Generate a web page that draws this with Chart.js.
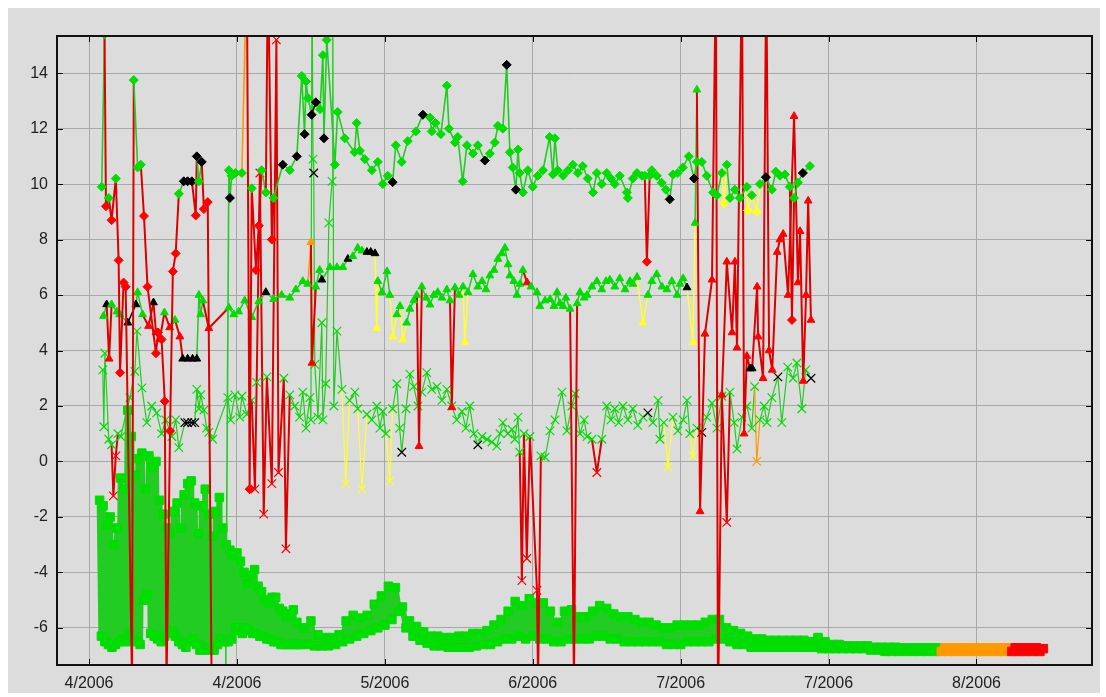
<!DOCTYPE html>
<html>
<head>
<meta charset="utf-8">
<script src="https://cdn.jsdelivr.net/npm/chart.js@4.4.1/dist/chart.umd.min.js"></script>
<style>
  html, body { margin: 0; padding: 0; background: #fff; }
  #wrap { position: absolute; left: 8px; top: 8px; width: 1092px; height: 685px; background: #dcdcdc; }
</style>
</head>
<body>
<div id="wrap"><canvas id="chart" width="1092" height="685"></canvas></div>
<script>
// x = days since 1 Apr 2006
const tickDays = [7, 28, 49, 70, 91, 112, 133];
const tickLabels = ['4/2006', '4/2006', '5/2006', '6/2006', '7/2006', '7/2006', '8/2006'];
const yTicks = [-6, -4, -2, 0, 2, 4, 6, 8, 10, 12, 14];

// status: n = normal, w = warning, a = alarm, c = critical, k = unknown
// [day, value, status]
const diamondReadings = [
  [8.8, 9.9, 'n'], [9.2, 15.4, 'n'], [9.4, 9.2, 'c'], [9.8, 9.5, 'n'], [10.2, 8.7, 'c'],
  [10.8, 10.2, 'n'], [11.2, 7.25, 'c'], [11.4, 3.2, 'c'], [11.9, 6.45, 'c'], [12.2, 6.3, 'c'],
  [13.1, -8, 'c'], [13.35, 13.75, 'n'], [13.9, 10.6, 'n'], [14.35, 10.7, 'n'], [14.8, 8.85, 'c'],
  [15.3, 6.3, 'c'], [16.5, 3.9, 'c'], [16.8, 4.65, 'c'], [17.3, 4.4, 'c'], [17.75, 2.17, 'c'],
  [18.0, -8, 'c'], [18.5, 1.1, 'c'], [18.9, 6.85, 'c'], [19.3, 7.5, 'c'], [19.75, 9.65, 'n'],
  [20.45, 10.1, 'k'], [21.0, 10.1, 'k'], [21.6, 10.1, 'k'], [22.15, 8.87, 'c'], [22.3, 11.0, 'k'],
  [22.6, 10.1, 'n'], [23.0, 10.8, 'k'], [23.3, 9.1, 'c'], [23.85, 9.35, 'c'], [24.4, -8, 'c'],
  [26.4, -8, 'n'], [26.85, 10.5, 'n'], [27.0, 9.5, 'k'], [27.25, 10.3, 'n'], [27.8, 10.4, 'n'],
  [28.7, 10.4, 'n'], [29.4, 18, 'a'], [29.8, -1.0, 'c'], [30.1, 9.85, 'n'], [30.7, 6.9, 'c'],
  [31.1, 8.5, 'c'], [31.5, 10.5, 'n'], [32.1, 9.7, 'n'], [32.4, 18, 'c'], [32.95, 8.0, 'c'],
  [33.2, 9.5, 'n'], [34.5, 10.7, 'k'], [35.5, 10.5, 'n'], [36.5, 11.0, 'k'], [37.2, 13.9, 'n'],
  [37.6, 11.8, 'k'], [37.8, 13.7, 'n'], [38.1, 13.1, 'n'], [38.6, 12.5, 'k'], [39.2, 12.95, 'k'],
  [39.8, 12.7, 'n'], [40.2, 14.65, 'n'], [40.35, 11.65, 'k'], [40.75, 15.2, 'n'], [41.9, 10.7, 'n'],
  [42.3, 12.6, 'n'], [43.3, 11.65, 'n'], [44.7, 11.15, 'n'], [45.0, 12.2, 'n'], [45.45, 11.2, 'n'],
  [46.15, 10.9, 'n'], [47.15, 10.5, 'n'], [48.0, 10.8, 'n'], [48.7, 10.0, 'n'], [49.4, 10.3, 'n'],
  [50.1, 10.07, 'k'], [50.55, 11.4, 'n'], [51.4, 10.8, 'n'], [52.25, 11.55, 'n'], [53.4, 11.9, 'n'],
  [54.4, 12.5, 'k'], [55.4, 12.4, 'n'], [55.65, 11.9, 'n'], [56.2, 12.2, 'n'], [56.95, 11.8, 'n'],
  [57.8, 13.55, 'n'], [58.1, 12.0, 'n'], [58.95, 11.5, 'n'], [59.35, 11.7, 'n'], [60.05, 10.1, 'n'],
  [60.65, 11.4, 'n'], [61.5, 11.1, 'n'], [62.2, 11.4, 'n'], [63.2, 10.85, 'k'], [63.9, 11.1, 'n'],
  [64.6, 11.5, 'n'], [65.05, 12.1, 'n'], [65.75, 12.0, 'n'], [66.3, 14.3, 'k'], [66.75, 11.15, 'n'],
  [67.15, 10.6, 'n'], [67.6, 9.8, 'k'], [67.9, 11.25, 'n'], [68.15, 10.4, 'n'], [68.6, 9.7, 'n'],
  [69.3, 10.5, 'n'], [70.0, 9.9, 'n'], [70.7, 10.3, 'n'], [71.45, 10.5, 'n'], [72.4, 11.7, 'n'],
  [72.85, 10.35, 'n'], [73.15, 11.65, 'n'], [73.55, 10.5, 'n'], [74.3, 10.3, 'n'], [75.0, 10.5, 'n'],
  [75.7, 10.7, 'n'], [76.4, 10.4, 'n'], [77.1, 10.65, 'n'], [77.8, 10.2, 'n'], [78.55, 9.7, 'n'],
  [79.1, 10.4, 'n'], [79.8, 10.0, 'n'], [80.5, 10.4, 'n'], [81.1, 10.2, 'n'], [81.65, 10.0, 'n'],
  [82.35, 10.3, 'n'], [83.35, 9.7, 'n'], [83.5, 9.5, 'n'], [84.2, 10.2, 'n'], [84.8, 10.4, 'n'],
  [85.5, 10.3, 'n'], [85.9, 10.3, 'n'], [86.2, 7.2, 'c'], [86.6, 10.3, 'n'], [86.9, 10.5, 'n'],
  [87.6, 10.3, 'n'], [88.3, 10.05, 'n'], [88.9, 9.8, 'n'], [89.45, 9.45, 'k'], [89.9, 10.35, 'n'],
  [90.6, 10.4, 'n'], [91.3, 10.6, 'n'], [92.15, 11.0, 'n'], [92.9, 10.2, 'k'], [93.3, 10.8, 'n'],
  [94.0, 10.8, 'n'], [94.7, 10.3, 'n'], [95.6, 9.7, 'n'], [96.15, 9.6, 'n'], [96.85, 10.4, 'n'],
  [97.15, 9.3, 'w'], [97.55, 10.7, 'n'], [98.0, 9.5, 'n'], [98.7, 9.8, 'n'], [99.4, 9.5, 'n'],
  [100.4, 9.9, 'n'], [100.55, 9.05, 'w'], [101.1, 9.6, 'n'], [101.8, 9.0, 'w'], [102.25, 10.0, 'n'],
  [103.1, 10.25, 'k'], [103.95, 9.8, 'n'], [104.5, 10.45, 'n'], [105.1, 10.3, 'n'], [105.8, 10.35, 'n'],
  [106.5, 9.9, 'n'], [106.8, 5.1, 'c'], [107.1, 9.5, 'n'], [107.65, 10.05, 'n'], [108.35, 10.4, 'k'],
  [109.35, 10.65, 'n']
];

const triangleReadings = [
  [9.05, 5.24, 'n'], [9.5, 5.66, 'k'], [9.85, 3.7, 'c'], [10.2, 5.66, 'n'], [10.95, 5.4, 'n'],
  [11.35, 5.3, 'n'], [12.5, 5.0, 'k'], [13.65, 5.66, 'k'], [13.9, 6.1, 'n'], [14.6, 5.3, 'n'],
  [15.45, 4.88, 'c'], [16.15, 5.73, 'k'], [16.5, 4.65, 'c'], [17.05, 4.4, 'c'], [17.7, 5.37, 'n'],
  [18.45, 4.83, 'c'], [19.2, 5.1, 'n'], [19.9, 4.5, 'c'], [20.3, 3.7, 'k'], [21.0, 3.7, 'k'],
  [21.7, 3.7, 'k'], [22.3, 3.7, 'k'], [22.6, 6.0, 'n'], [22.85, 5.3, 'n'], [23.15, 5.8, 'n'],
  [24.0, 4.8, 'c'], [26.85, 5.55, 'n'], [27.55, 5.3, 'n'], [28.25, 5.4, 'n'], [29.1, 5.8, 'n'],
  [30.1, 5.2, 'n'], [31.1, 5.77, 'n'], [32.1, 6.1, 'k'], [33.2, 5.85, 'n'], [34.35, 6.0, 'n'],
  [35.5, 5.9, 'n'], [36.35, 6.2, 'n'], [37.35, 6.5, 'n'], [38.05, 6.4, 'n'], [38.5, 7.9, 'a'],
  [38.65, 3.55, 'c'], [39.2, 6.3, 'n'], [39.75, 6.9, 'n'], [40.05, 6.55, 'k'], [41.2, 7.0, 'n'],
  [42.2, 7.0, 'n'], [43.05, 7.0, 'n'], [43.75, 7.3, 'k'], [44.45, 7.4, 'n'], [45.15, 7.7, 'n'],
  [45.75, 7.6, 'n'], [46.45, 7.55, 'k'], [47.0, 7.55, 'k'], [47.6, 7.5, 'k'], [47.85, 4.8, 'w'],
  [48.0, 6.5, 'n'], [48.6, 6.1, 'n'], [49.3, 6.85, 'n'], [49.7, 6.0, 'n'], [50.15, 4.5, 'w'],
  [50.7, 5.3, 'n'], [51.15, 5.6, 'n'], [51.55, 4.4, 'w'], [52.1, 5.0, 'n'], [52.55, 5.5, 'n'],
  [53.1, 5.8, 'n'], [53.55, 6.0, 'n'], [53.85, 0.55, 'c'], [54.25, 6.3, 'n'], [54.85, 5.9, 'n'],
  [55.4, 5.65, 'n'], [55.95, 6.0, 'n'], [56.5, 6.1, 'n'], [57.1, 5.9, 'n'], [57.8, 6.2, 'n'],
  [58.25, 5.8, 'n'], [58.5, 1.95, 'c'], [58.95, 6.27, 'n'], [59.5, 6.0, 'n'], [60.1, 6.3, 'n'],
  [60.35, 4.3, 'w'], [60.8, 6.1, 'n'], [61.5, 6.75, 'n'], [62.2, 6.3, 'n'], [62.8, 6.5, 'n'],
  [63.35, 6.2, 'n'], [63.9, 6.7, 'n'], [64.5, 6.9, 'n'], [65.05, 7.3, 'n'], [65.6, 7.5, 'n'],
  [66.05, 7.7, 'n'], [66.5, 7.1, 'n'], [66.75, 6.7, 'n'], [67.3, 6.5, 'n'], [67.75, 6.0, 'n'],
  [68.2, 6.4, 'n'], [68.6, 6.9, 'n'], [69.2, 6.45, 'c'], [69.75, 6.3, 'n'], [70.6, 6.1, 'n'],
  [71.0, 5.6, 'n'], [71.75, 5.8, 'n'], [72.45, 5.85, 'n'], [73.0, 5.6, 'n'], [73.45, 6.1, 'n'],
  [73.85, 5.7, 'n'], [74.3, 5.6, 'n'], [74.7, 5.9, 'n'], [75.3, 5.5, 'n'], [75.85, -8, 'c'],
  [76.3, 5.7, 'n'], [76.7, 6.1, 'n'], [77.3, 5.9, 'n'], [77.7, 6.0, 'n'], [78.4, 6.3, 'n'],
  [79.1, 6.5, 'n'], [79.8, 6.2, 'n'], [80.4, 6.5, 'n'], [80.95, 6.55, 'n'], [81.65, 6.3, 'n'],
  [82.35, 6.6, 'n'], [83.1, 6.2, 'n'], [83.8, 6.5, 'n'], [84.2, 6.4, 'n'], [84.8, 6.65, 'n'],
  [85.65, 5.0, 'w'], [86.35, 6.0, 'n'], [86.9, 6.5, 'n'], [87.6, 6.75, 'n'], [88.35, 6.3, 'n'],
  [89.05, 6.2, 'n'], [89.75, 6.5, 'n'], [90.5, 6.0, 'n'], [90.9, 6.4, 'n'], [91.35, 6.6, 'n'],
  [91.9, 6.27, 'k'], [92.75, 4.3, 'w'], [93.05, 8.6, 'n'], [93.3, 13.4, 'n'], [93.75, -1.8, 'c'],
  [94.45, 4.6, 'c'], [95.45, 6.55, 'c'], [96.0, 18, 'c'], [96.3, -9, 'c'], [96.85, 2.4, 'c'],
  [97.55, 7.2, 'c'], [98.3, 4.65, 'c'], [98.7, 7.2, 'c'], [99.0, 4.1, 'c'], [99.7, 18, 'c'],
  [100.0, 1.0, 'c'], [100.4, 3.8, 'c'], [100.85, 3.35, 'k'], [101.15, 3.35, 'k'], [101.85, 6.3, 'c'],
  [102.0, 4.5, 'c'], [102.7, 3.0, 'c'], [103.15, 18, 'c'], [103.55, 4.0, 'c'], [104.0, 3.3, 'c'],
  [104.7, 7.55, 'c'], [105.1, 8.0, 'c'], [105.55, 8.2, 'c'], [106.25, 6.0, 'c'], [107.1, 12.45, 'c'],
  [107.65, 6.45, 'c'], [107.95, 8.3, 'c'], [108.4, 2.9, 'c'], [108.8, 6.0, 'c'], [109.1, 9.4, 'c'],
  [109.5, 5.1, 'c']
];

const crossReadings = [
  [8.95, 3.3, 'n'], [9.1, 1.25, 'n'], [9.25, 3.9, 'n'], [9.8, 0.8, 'n'], [10.2, 0.6, 'n'],
  [10.45, -1.24, 'c'], [10.8, 0.2, 'c'], [11.1, 1.0, 'n'], [11.5, 0.9, 'n'], [12.8, 2.3, 'n'],
  [13.5, 3.25, 'n'], [13.8, 4.7, 'n'], [14.5, 2.65, 'n'], [15.2, 1.4, 'n'], [15.9, 2.0, 'n'],
  [16.6, 1.75, 'n'], [17.3, 1.0, 'n'], [17.9, 1.5, 'n'], [18.75, 0.9, 'n'], [19.3, 1.5, 'n'],
  [19.75, 0.5, 'n'], [20.6, 1.4, 'k'], [21.0, 1.4, 'k'], [21.6, 1.4, 'k'], [22.0, 1.4, 'k'],
  [22.3, 2.6, 'n'], [22.6, 1.9, 'n'], [22.85, 2.4, 'n'], [23.3, 1.85, 'n'], [23.7, 1.2, 'n'],
  [24.0, 1.05, 'n'], [24.55, 0.8, 'n'], [26.7, 2.3, 'n'], [27.1, 1.5, 'n'], [27.7, 2.4, 'n'],
  [28.4, 1.6, 'n'], [28.7, 2.35, 'n'], [29.4, 1.7, 'n'], [30.1, 2.2, 'n'], [30.55, -1.0, 'c'],
  [30.8, 2.85, 'n'], [31.25, 10.4, 'c'], [31.8, -1.9, 'c'], [32.25, 3.05, 'n'], [32.95, -0.8, 'c'],
  [33.6, 15.2, 'c'], [33.9, -0.4, 'c'], [34.65, 3.0, 'n'], [34.95, -3.15, 'c'], [35.5, 2.4, 'n'],
  [36.2, 2.0, 'n'], [36.9, 1.6, 'n'], [37.35, 2.5, 'n'], [37.8, 1.2, 'n'], [38.35, 2.3, 'n'],
  [38.5, 1.5, 'n'], [38.65, 18, 'n'], [38.8, 10.9, 'n'], [38.9, 10.4, 'k'], [39.05, 3.5, 'n'],
  [39.5, 1.6, 'n'], [40.05, 5.0, 'n'], [40.2, 1.5, 'n'], [40.6, 2.8, 'n'], [41.05, 8.6, 'n'],
  [41.5, 10.1, 'n'], [41.6, 18, 'n'], [41.75, 2.0, 'n'], [42.2, 4.7, 'n'], [42.9, 2.6, 'n'],
  [43.45, -0.8, 'w'], [44.0, 2.2, 'n'], [44.75, 2.5, 'n'], [45.15, 1.9, 'n'], [45.75, -1.0, 'w'],
  [46.45, 1.7, 'n'], [47.15, 1.5, 'n'], [47.85, 2.0, 'n'], [48.3, 1.2, 'n'], [48.7, 1.8, 'n'],
  [49.15, 1.0, 'n'], [49.7, -0.7, 'w'], [50.1, 1.9, 'n'], [50.7, 2.8, 'n'], [51.1, 1.2, 'n'],
  [51.4, 0.33, 'k'], [52.0, 1.9, 'n'], [52.55, 3.15, 'n'], [53.1, 2.7, 'n'], [53.7, 2.0, 'n'],
  [54.25, 2.5, 'n'], [54.95, 3.2, 'n'], [55.65, 2.6, 'n'], [56.4, 2.7, 'n'], [57.1, 2.2, 'n'],
  [57.8, 2.6, 'n'], [58.5, 2.0, 'n'], [59.2, 1.5, 'n'], [59.95, 1.8, 'n'], [60.5, 1.2, 'n'],
  [61.05, 2.0, 'n'], [61.65, 1.0, 'n'], [62.2, 0.6, 'k'], [62.8, 0.9, 'n'], [63.5, 0.8, 'n'],
  [64.2, 0.7, 'n'], [64.9, 0.55, 'n'], [65.35, 1.0, 'n'], [65.75, 1.4, 'n'], [66.45, 1.0, 'n'],
  [67.05, 1.15, 'n'], [67.45, 0.8, 'n'], [67.9, 1.6, 'n'], [68.15, 0.33, 'n'], [68.45, -4.3, 'c'],
  [68.75, 1.0, 'n'], [69.15, -3.5, 'c'], [69.6, 0.9, 'n'], [70.6, -4.65, 'c'], [70.75, -8, 'c'],
  [71.15, 0.2, 'n'], [71.75, 0.15, 'n'], [72.45, 1.1, 'n'], [73.15, 1.5, 'n'], [74.15, 2.5, 'n'],
  [74.85, 1.1, 'n'], [75.55, 2.0, 'n'], [76.0, 2.45, 'n'], [76.7, 1.0, 'n'], [77.3, 1.5, 'n'],
  [77.7, 0.9, 'n'], [78.4, 0.8, 'n'], [79.1, -0.4, 'c'], [79.8, 0.8, 'n'], [80.5, 2.0, 'n'],
  [81.1, 1.5, 'n'], [81.65, 1.9, 'n'], [82.2, 1.4, 'n'], [82.8, 2.0, 'n'], [83.5, 1.5, 'n'],
  [84.2, 1.9, 'n'], [84.9, 1.3, 'n'], [85.65, 1.6, 'n'], [86.35, 1.75, 'k'], [87.05, 1.4, 'n'],
  [87.8, 2.2, 'n'], [88.05, 0.8, 'n'], [88.6, 1.4, 'n'], [89.2, -0.2, 'w'], [89.9, 1.6, 'n'],
  [90.6, 1.1, 'n'], [91.35, 1.5, 'n'], [91.9, 2.2, 'n'], [92.3, 1.0, 'n'], [92.75, 0.2, 'w'],
  [93.3, 1.2, 'n'], [94.0, 1.05, 'k'], [94.7, 1.6, 'n'], [95.45, 2.1, 'n'], [96.15, 1.2, 'n'],
  [96.85, 2.35, 'n'], [97.55, -2.2, 'c'], [98.0, 2.5, 'n'], [98.6, 1.4, 'n'], [99.0, 0.45, 'n'],
  [99.7, 1.6, 'n'], [100.4, 2.0, 'n'], [101.1, 1.2, 'n'], [101.5, 2.7, 'n'], [101.8, 0.0, 'a'],
  [102.25, 1.5, 'n'], [102.85, 2.0, 'n'], [103.25, 1.4, 'n'], [103.95, 2.3, 'n'], [104.8, 3.05, 'k'],
  [105.35, 1.4, 'n'], [106.2, 3.4, 'n'], [106.95, 3.0, 'n'], [107.5, 3.55, 'n'], [108.2, 1.9, 'n'],
  [108.75, 3.3, 'n'], [109.5, 3.0, 'k']
];

// square series, first weeks: one reading every quarter day from day 8.5
const squareDenseStart = 8.5;
const squareDenseStep = 0.25;
const squareDenseValues = [
  -1.4, -6.3, -1.6, -6.5, -2.3, -6.6, -2.0, -6.7, -3.0, -6.6,
  -2.4, -6.5, -0.6, -6.4, -1.0, -6.5, 1.85, -6.2, 0.9, -6.4,
  -0.5, -6.5, 0.1, -6.6, 0.3, -5.0, -1.0, -4.8, 0.2, -6.2,
  -0.2, -6.3, 0.0, -6.4, -1.4, -6.5, -1.9, -6.3, -2.4, -6.2,
  -2.6, -6.1, -1.8, -6.3, -1.5, -6.5, -2.4, -6.6, -1.2, -6.7,
  -0.8, -6.5, -0.7, -6.4, -1.5, -6.6, -2.6, -6.8, -1.6, -6.8,
  -1.0, -6.7, -1.9, -6.8, -2.7, -6.8, -1.8, -6.6, -1.3, -6.4,
  -2.4, -6.5, -3.0, -6.5, -3.2, -6.4, -3.4, -6.0, -3.3, -6.1,
  -3.6, -6.2, -4.0, -6.0, -4.4, -6.1, -4.1, -6.2, -3.9, -6.2,
  -4.5, -6.3, -4.7, -6.3, -5.0, -6.4, -5.1, -6.4, -4.9, -6.5,
  -4.9, -6.5, -5.3, -6.6, -5.4, -6.6, -5.6, -6.6, -5.5, -6.6,
  -5.35, -6.6, -5.8, -6.6
];
// square series afterwards: one reading every half day from day 37
const squareStart = 37;
const squareStep = 0.5;
const squareValues = [
  -6.6, -6.0, -6.6,
  -5.75, -6.65, -6.25, -6.65, -6.35, -6.65, -6.35, -6.6, -6.25, -6.5,
  -5.75, -6.4, -5.55, -6.3, -5.65, -6.2, -5.55, -6.1, -5.15, -6.0,
  -4.85, -5.9, -4.5, -5.7, -4.55, -5.4, -5.25, -6.0, -5.75, -6.3,
  -5.95, -6.45, -6.15, -6.55, -6.3, -6.65, -6.3, -6.65, -6.35, -6.7,
  -6.35, -6.7, -6.3, -6.7, -6.3, -6.7, -6.2, -6.65, -6.2, -6.6,
  -6.1, -6.6, -5.9, -6.5, -5.7, -6.4, -5.4, -6.4, -5.05, -6.3,
  -5.2, -6.4, -4.95, -6.3, -5.1, -6.4, -5.1, -6.4, -5.4, -6.5,
  -5.8, -6.5, -5.4, -6.4, -5.35, -6.4, -5.6, -6.4, -5.6, -6.4,
  -5.4, -6.3, -5.2, -6.3, -5.3, -6.4, -5.5, -6.4, -5.6, -6.5,
  -5.6, -6.5, -5.7, -6.5, -5.8, -6.5, -5.8, -6.5, -5.9, -6.5,
  -6.0, -6.6, -6.0, -6.6, -5.9, -6.6, -5.9, -6.5, -5.9, -6.5,
  -5.9, -6.5, -5.8, -6.5, -5.7, -6.4, -5.7, -6.4, -6.0, -6.5,
  -6.1, -6.6, -6.2, -6.6, -6.3, -6.7, -6.4, -6.7, -6.4, -6.7,
  -6.45, -6.7, -6.45, -6.7, -6.45, -6.7, -6.45, -6.7, -6.45, -6.7,
  -6.45, -6.7, -6.5, -6.7, -6.35, -6.75, -6.5, -6.75, -6.6, -6.75,
  -6.6, -6.75, -6.65, -6.75, -6.65, -6.75, -6.65, -6.75, -6.65, -6.8,
  -6.7, -6.8, -6.7, -6.85, -6.7, -6.85, -6.7, -6.85, -6.72, -6.85,
  -6.72, -6.85, -6.72, -6.85, -6.72, -6.85, -6.72, -6.85, -6.72, -6.85,
  -6.72, -6.85, -6.72, -6.85, -6.72, -6.85, -6.72, -6.85, -6.72, -6.85,
  -6.72, -6.85, -6.72, -6.85, -6.72, -6.85, -6.72, -6.85, -6.72, -6.85,
  -6.72, -6.85, -6.72, -6.85, -6.72, -6.85, -6.72, -6.85, -6.75
];
// status changes of the square series: [from day, status]
const squareStatusChanges = [[8.5, 'n'], [128, 'a'], [138, 'c']];

const pointColors = { n: '#00dd00', w: '#ffff22', a: '#ff9900', c: '#ff0000', k: '#000000' };
const lineColors = { n: '#22cc22', w: '#ffff33', a: '#ff9900', c: '#dd0000', k: '#000000' };
const rank = { n: 0, k: 0, w: 1, a: 2, c: 3 };

function segmentStatus(status, ctx) {
  const a = status[ctx.p0DataIndex], b = status[ctx.p1DataIndex];
  if (a === 'k' && b === 'k') return 'k';
  if (rank[a] === 0 && rank[b] === 0) return 'n';
  return rank[a] >= rank[b] ? a : b;
}

function lineSet(readings, shape, radius, lineWidth, order) {
  const status = readings.map(r => r[2]);
  return {
    data: readings.map(r => ({ x: r[0], y: r[1] })),
    pointStyle: shape,
    pointRadius: radius,
    pointBackgroundColor: status.map(s => pointColors[s]),
    pointBorderColor: status.map(s => pointColors[s]),
    pointBorderWidth: shape === 'crossRot' ? 1.2 : 1,
    borderWidth: lineWidth,
    borderColor: lineColors.n,
    borderJoinStyle: 'round',
    borderCapStyle: 'round',
    segment: {
      borderColor: ctx => lineColors[segmentStatus(status, ctx)],
      borderWidth: ctx => segmentStatus(status, ctx) === 'c' ? Math.max(lineWidth, 2) : lineWidth
    },
    tension: 0,
    order: order
  };
}

function squareStatusAt(day) {
  let st = 'n';
  squareStatusChanges.forEach(c => { if (day >= c[0]) st = c[1]; });
  return st;
}

const squareReadings = squareDenseValues
  .map((v, i) => squareDenseStart + i * squareDenseStep)
  .map((day, i) => [day, squareDenseValues[i], squareStatusAt(day)])
  .concat(squareValues.map((v, i) => {
    const day = squareStart + i * squareStep;
    return [day, v, squareStatusAt(day)];
  }));

const frame = {
  id: 'frame',
  afterDatasetsDraw(chart) {
    const { ctx, chartArea: a, scales: { x, y } } = chart;
    ctx.save();
    ctx.strokeStyle = '#000';
    ctx.lineWidth = 1;
    ctx.beginPath();
    x.ticks.forEach(t => {
      const p = Math.round(x.getPixelForValue(t.value)) + 0.5;
      ctx.moveTo(p, a.top); ctx.lineTo(p, a.top + 6);
      ctx.moveTo(p, a.bottom); ctx.lineTo(p, a.bottom - 6);
    });
    y.ticks.forEach(t => {
      const p = Math.round(y.getPixelForValue(t.value)) + 0.5;
      ctx.moveTo(a.left, p); ctx.lineTo(a.left + 6, p);
      ctx.moveTo(a.right, p); ctx.lineTo(a.right - 6, p);
    });
    ctx.stroke();
    ctx.lineWidth = 2;
    ctx.strokeStyle = '#111';
    ctx.strokeRect(a.left, a.top, a.width, a.height);
    ctx.restore();
  }
};

new Chart(document.getElementById('chart'), {
  type: 'line',
  data: {
    datasets: [
      lineSet(diamondReadings, 'rectRot', 4.5, 1.6, 1),
      lineSet(triangleReadings, 'triangle', 4.5, 1.5, 2),
      lineSet(crossReadings, 'crossRot', 6, 1.2, 3),
      lineSet(squareReadings, 'rect', 6, 6, 4)
    ]
  },
  options: {
    responsive: false,
    animation: false,
    devicePixelRatio: 1,
    layout: { padding: { top: 28, right: 8, left: 0, bottom: 0 } },
    plugins: { legend: { display: false }, tooltip: { enabled: false } },
    scales: {
      x: {
        type: 'linear',
        min: 2.45,
        max: 149.4,
        afterBuildTicks: s => { s.ticks = tickDays.map(v => ({ value: v })); },
        afterFit: s => { s.height = 28; },
        grid: { color: '#a8a8a8', lineWidth: 1, drawTicks: false },
        border: { display: false },
        ticks: {
          padding: 9,
          color: '#222',
          font: { family: 'Liberation Sans, Arial, sans-serif', size: 16 },
          maxRotation: 0,
          autoSkip: false,
          callback: v => tickLabels[tickDays.indexOf(v)]
        }
      },
      y: {
        min: -7.34,
        max: 15.34,
        afterBuildTicks: s => { s.ticks = yTicks.map(v => ({ value: v })); },
        afterFit: s => { s.width = 49; },
        grid: { color: '#a8a8a8', lineWidth: 1, drawTicks: false },
        border: { display: false },
        ticks: {
          padding: 9,
          color: '#222',
          font: { family: 'Liberation Sans, Arial, sans-serif', size: 16 },
          callback: v => String(v)
        }
      }
    }
  },
  plugins: [frame]
});
</script>
</body>
</html>
